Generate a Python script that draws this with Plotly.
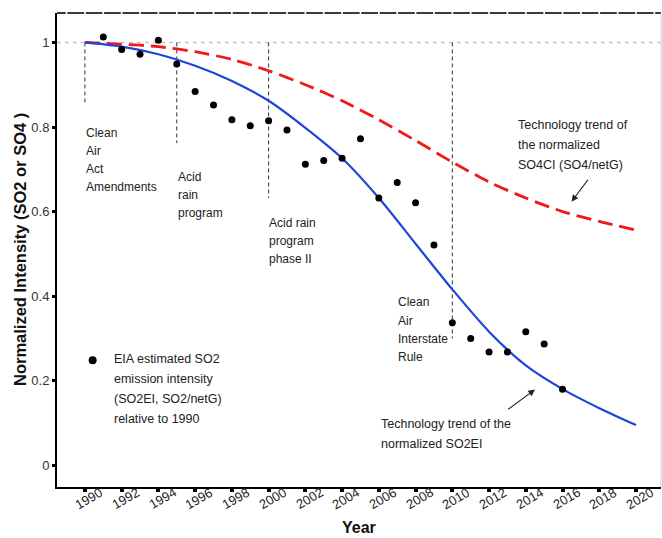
import plotly.graph_objects as go

# EIA estimated SO2 emission intensity relative to 1990
obs_years = [1991, 1992, 1993, 1994, 1995, 1996, 1997, 1998, 1999, 2000,
             2001, 2002, 2003, 2004, 2005, 2006, 2007, 2008, 2009, 2010,
             2011, 2012, 2013, 2014, 2015, 2016]
obs_values = [1.013, 0.983, 0.972, 1.005, 0.949, 0.884, 0.852, 0.817, 0.803, 0.815,
              0.793, 0.712, 0.721, 0.726, 0.772, 0.632, 0.669, 0.621, 0.521, 0.337,
              0.300, 0.268, 0.268, 0.316, 0.287, 0.180]

# Technology trend of the normalized SO2EI
so2_years = [1990, 1992, 1994, 1996, 1998, 2000, 2002, 2004, 2006, 2008,
             2010, 2012, 2014, 2016, 2018, 2020]
so2_trend = [1.000, 0.990, 0.972, 0.945, 0.909, 0.862, 0.798, 0.726, 0.632, 0.524,
             0.416, 0.316, 0.236, 0.180, 0.135, 0.095]

# Technology trend of the normalized SO4CI
so4_years = [1990, 1992, 1994, 1996, 1998, 2000, 2002, 2004, 2006, 2008,
             2010, 2012, 2014, 2016, 2018, 2020]
so4_trend = [1.000, 0.996, 0.990, 0.978, 0.960, 0.933, 0.900, 0.862, 0.817, 0.768,
             0.717, 0.670, 0.632, 0.600, 0.577, 0.556]

# Policy milestones
event_years = [1990, 1995, 2000, 2010]
event_bottoms = [0.853, 0.762, 0.632, 0.300]
event_labels = [["Clean", "Air", "Act", "Amendments"],
                ["Acid", "rain", "program"],
                ["Acid rain", "program", "phase II"],
                ["Clean", "Air", "Interstate", "Rule"]]

tick_years = list(range(1990, 2021, 2))
y_ticks = [0, 0.2, 0.4, 0.6, 0.8, 1.0]
y_ticktext = ["0", "0.2", "0.4", "0.6", "0.8", "1"]

FONT = "Liberation Sans, Arial, sans-serif"
X_RANGE = [1988.48, 2021.36]
Y_RANGE = [-0.0514, 1.0696]
PX_PER_Y = 422.3  # vertical pixels per unit on the y axis

fig = go.Figure()

fig.add_trace(go.Scatter(x=so4_years, y=so4_trend, mode="lines",
                         line=dict(color="#f01818", width=2.8, dash="15px,7px", shape="spline", smoothing=0.8),
                         hoverinfo="skip", showlegend=False))
fig.add_trace(go.Scatter(x=so2_years, y=so2_trend, mode="lines",
                         line=dict(color="#1f45d8", width=2.2, shape="spline", smoothing=0.8),
                         hoverinfo="skip", showlegend=False))
fig.add_trace(go.Scatter(x=obs_years, y=obs_values, mode="markers",
                         marker=dict(color="black", size=7),
                         hoverinfo="skip", showlegend=False))
# legend key dot
fig.add_trace(go.Scatter(x=[1990.42], y=[0.2486], mode="markers",
                         marker=dict(color="black", size=8),
                         hoverinfo="skip", showlegend=False))

shapes = []
# reference line at 1
shapes.append(dict(type="line", xref="paper", x0=0, x1=1, yref="y", y0=1, y1=1,
                   line=dict(color="#c8c8c8", width=1.5, dash="4px,4px"), layer="below"))
# milestone markers
for yr, yb in zip(event_years, event_bottoms):
    shapes.append(dict(type="line", xref="x", x0=yr, x1=yr, yref="y", y0=1, y1=yb,
                       line=dict(color="#333333", width=1, dash="4px,3px"), layer="below"))
# top frame, broken at each year
g = 0.045
for yr in range(int(X_RANGE[0]) - 1, int(X_RANGE[1]) + 1):
    a = max(yr + g, X_RANGE[0])
    b = min(yr + 1 - g, X_RANGE[1])
    if b > a:
        shapes.append(dict(type="line", xref="x", x0=a, x1=b, yref="paper", y0=1, y1=1,
                           line=dict(color="#3a3a3a", width=2)))
# right frame
shapes.append(dict(type="line", xref="paper", x0=1, x1=1, yref="paper", y0=0, y1=1,
                   line=dict(color="#d0d0d0", width=1)))

annotations = []


def text_block(lines, x, y_first, spacing_px, size):
    for i, line in enumerate(lines):
        annotations.append(dict(text=line, x=x, y=y_first - i * spacing_px / PX_PER_Y,
                                xref="x", yref="y", xanchor="left", yanchor="middle",
                                showarrow=False, font=dict(family=FONT, size=size, color="#222222")))


text_block(event_labels[0], 1989.95, 0.785, 17.8, 12)
text_block(event_labels[1], 1994.94, 0.682, 18.0, 12)
text_block(event_labels[2], 1999.91, 0.572, 17.8, 12)
text_block(event_labels[3], 2006.95, 0.385, 18.0, 12)
text_block(["EIA estimated SO2", "emission intensity", "(SO2EI, SO2/netG)", "relative to 1990"],
           1991.46, 0.252, 20.0, 12.5)
text_block(["Technology trend of", "the normalized", "SO4CI (SO4/netG)"],
           2013.45, 0.805, 20.0, 12.5)
text_block(["Technology trend of the", "normalized SO2EI"], 2006.0, 0.097, 19.5, 12.5)

# pointer arrows to the two trend curves
annotations.append(dict(text="", x=2016.49, y=0.6235, ax=2017.45, ay=0.679,
                        xref="x", yref="y", axref="x", ayref="y", showarrow=True,
                        arrowhead=2, arrowsize=1.2, arrowwidth=1.1, arrowcolor="#222222"))
annotations.append(dict(text="", x=2014.50, y=0.179, ax=2012.96, ay=0.130,
                        xref="x", yref="y", axref="x", ayref="y", showarrow=True,
                        arrowhead=2, arrowsize=1.2, arrowwidth=1.1, arrowcolor="#222222"))

# rotated year labels
for yr in tick_years:
    annotations.append(dict(text=str(yr), x=yr + 0.2, y=0, xref="x", yref="paper",
                            yshift=-11, xanchor="center", yanchor="middle", textangle=-30,
                            showarrow=False, font=dict(family=FONT, size=13, color="#222222")))

# axis titles
annotations.append(dict(text="<b>Year</b>", x=0.5, y=0, xref="paper", yref="paper",
                        yshift=-40, xanchor="center", yanchor="middle", showarrow=False,
                        font=dict(family=FONT, size=16, color="#111111")))
annotations.append(dict(text="<b>Normalized Intensity (SO2 or SO4 )</b>", x=0, y=0.5,
                        xref="paper", yref="paper", xshift=-37, xanchor="center", yanchor="middle",
                        textangle=-90, showarrow=False,
                        font=dict(family=FONT, size=16.5, color="#111111")))

fig.update_layout(
    width=662, height=538,
    margin=dict(l=57, r=1, t=13, b=51),
    paper_bgcolor="white", plot_bgcolor="white",
    shapes=shapes, annotations=annotations,
    xaxis=dict(range=X_RANGE, showgrid=False, zeroline=False,
               tickmode="array", tickvals=tick_years, showticklabels=False,
               ticks="outside", ticklen=3, tickwidth=4, tickcolor="black",
               showline=True, linecolor="black", linewidth=2),
    yaxis=dict(range=Y_RANGE, showgrid=False, zeroline=False,
               tickmode="array", tickvals=y_ticks, ticktext=y_ticktext,
               ticks="outside", ticklen=3, tickwidth=3, tickcolor="black",
               tickfont=dict(family=FONT, size=13, color="#333333"),
               showline=True, linecolor="black", linewidth=2),
)

fig.write_html("out.html")
